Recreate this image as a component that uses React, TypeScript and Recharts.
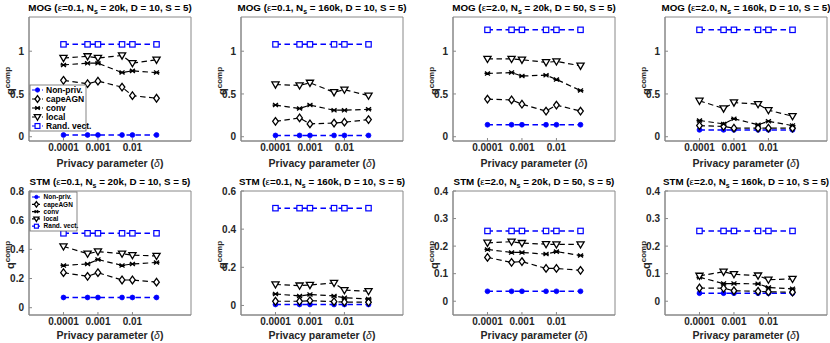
import React from 'react';
import { LineChart, Line, XAxis, YAxis, ReferenceArea } from 'recharts';

const FONT = '"Liberation Sans", Arial, Helvetica, sans-serif';
const BLUE = '#0000ff';
const INK = '#262626';

const deltas = [0.0001, 0.0005, 0.001, 0.005, 0.01, 0.05];
const deltaTicks = [0.0001, 0.001, 0.01];
const seriesNames = ['Non-priv.', 'capeAGN', 'conv', 'local', 'Rand. vect.'];

// MOG, eps=0.1, Ns=20k, D=10
const mogA_nonPriv = [0.02, 0.02, 0.02, 0.02, 0.02, 0.02];
const mogA_cape = [0.66, 0.62, 0.65, 0.58, 0.48, 0.45];
const mogA_conv = [0.84, 0.86, 0.86, 0.75, 0.77, 0.75];
const mogA_local = [0.92, 0.94, 0.92, 0.95, 0.86, 0.9];
const mogA_rand = [1.08, 1.08, 1.08, 1.08, 1.08, 1.08];

// MOG, eps=0.1, Ns=160k, D=10
const mogB_nonPriv = [0.015, 0.015, 0.015, 0.015, 0.015, 0.015];
const mogB_cape = [0.18, 0.22, 0.15, 0.16, 0.17, 0.2];
const mogB_conv = [0.37, 0.33, 0.37, 0.31, 0.31, 0.32];
const mogB_local = [0.61, 0.6, 0.63, 0.52, 0.55, 0.48];
const mogB_rand = [1.08, 1.08, 1.08, 1.08, 1.08, 1.08];

// MOG, eps=2.0, Ns=20k, D=50
const mogC_nonPriv = [0.14, 0.14, 0.14, 0.14, 0.14, 0.14];
const mogC_cape = [0.44, 0.43, 0.38, 0.3, 0.37, 0.3];
const mogC_conv = [0.74, 0.75, 0.71, 0.72, 0.67, 0.54];
const mogC_local = [0.91, 0.91, 0.9, 0.87, 0.88, 0.83];
const mogC_rand = [1.25, 1.25, 1.25, 1.25, 1.25, 1.25];

// MOG, eps=2.0, Ns=160k, D=10
const mogD_nonPriv = [0.08, 0.08, 0.08, 0.08, 0.08, 0.08];
const mogD_cape = [0.13, 0.12, 0.1, 0.1, 0.1, 0.1];
const mogD_conv = [0.19, 0.15, 0.21, 0.14, 0.18, 0.13];
const mogD_local = [0.42, 0.33, 0.4, 0.38, 0.31, 0.24];
const mogD_rand = [1.25, 1.25, 1.25, 1.25, 1.25, 1.25];

// STM, eps=0.1, Ns=20k, D=10
const stmA_nonPriv = [0.07, 0.07, 0.07, 0.07, 0.07, 0.07];
const stmA_cape = [0.24, 0.215, 0.24, 0.19, 0.19, 0.175];
const stmA_conv = [0.29, 0.3, 0.33, 0.29, 0.3, 0.31];
const stmA_local = [0.42, 0.37, 0.385, 0.37, 0.36, 0.355];
const stmA_rand = [0.51, 0.51, 0.51, 0.51, 0.51, 0.51];

// STM, eps=0.1, Ns=160k, D=10
const stmB_nonPriv = [0.005, 0.005, 0.005, 0.005, 0.005, 0.005];
const stmB_cape = [0.022, 0.022, 0.025, 0.02, 0.018, 0.017];
const stmB_conv = [0.06, 0.05, 0.057, 0.05, 0.04, 0.034];
const stmB_local = [0.11, 0.104, 0.107, 0.118, 0.08, 0.075];
const stmB_rand = [0.51, 0.51, 0.51, 0.51, 0.51, 0.51];

// STM, eps=2.0, Ns=20k, D=50
const stmC_nonPriv = [0.036, 0.036, 0.036, 0.036, 0.036, 0.036];
const stmC_cape = [0.159, 0.141, 0.144, 0.119, 0.119, 0.112];
const stmC_conv = [0.188, 0.177, 0.177, 0.171, 0.18, 0.166];
const stmC_local = [0.212, 0.216, 0.211, 0.207, 0.206, 0.206];
const stmC_rand = [0.255, 0.255, 0.255, 0.255, 0.255, 0.255];

// STM, eps=2.0, Ns=160k, D=10
const stmD_nonPriv = [0.029, 0.029, 0.029, 0.029, 0.029, 0.029];
const stmD_cape = [0.048, 0.047, 0.038, 0.036, 0.034, 0.033];
const stmD_conv = [0.087, 0.064, 0.064, 0.063, 0.05, 0.045];
const stmD_local = [0.092, 0.107, 0.098, 0.093, 0.078, 0.081];
const stmD_rand = [0.255, 0.255, 0.255, 0.255, 0.255, 0.255];

const panels = [
  { name: 'MOG', eps: '0.1', ns: '20k', d: '10', yMax: 1.4, yTicks: [0, 0.5, 1],
    series: [mogA_nonPriv, mogA_cape, mogA_conv, mogA_local, mogA_rand] },
  { name: 'MOG', eps: '0.1', ns: '160k', d: '10', yMax: 1.4, yTicks: [0, 0.5, 1],
    series: [mogB_nonPriv, mogB_cape, mogB_conv, mogB_local, mogB_rand] },
  { name: 'MOG', eps: '2.0', ns: '20k', d: '50', yMax: 1.4, yTicks: [0, 0.5, 1],
    series: [mogC_nonPriv, mogC_cape, mogC_conv, mogC_local, mogC_rand] },
  { name: 'MOG', eps: '2.0', ns: '160k', d: '10', yMax: 1.4, yTicks: [0, 0.5, 1],
    series: [mogD_nonPriv, mogD_cape, mogD_conv, mogD_local, mogD_rand] },
  { name: 'STM', eps: '0.1', ns: '20k', d: '10', yMax: 0.8, yTicks: [0, 0.2, 0.4, 0.6, 0.8],
    series: [stmA_nonPriv, stmA_cape, stmA_conv, stmA_local, stmA_rand] },
  { name: 'STM', eps: '0.1', ns: '160k', d: '10', yMax: 0.6, yTicks: [0, 0.2, 0.4, 0.6],
    series: [stmB_nonPriv, stmB_cape, stmB_conv, stmB_local, stmB_rand] },
  { name: 'STM', eps: '2.0', ns: '20k', d: '50', yMax: 0.4, yTicks: [0, 0.1, 0.2, 0.3, 0.4],
    series: [stmC_nonPriv, stmC_cape, stmC_conv, stmC_local, stmC_rand] },
  { name: 'STM', eps: '2.0', ns: '160k', d: '10', yMax: 0.4, yTicks: [0, 0.1, 0.2, 0.3, 0.4],
    series: [stmD_nonPriv, stmD_cape, stmD_conv, stmD_local, stmD_rand] },
];

const keys = ['nonPriv', 'cape', 'conv', 'local', 'rand'];
const kinds = ['dot', 'diamond', 'cross', 'tri', 'square'];
const colors = [BLUE, '#000', '#000', '#000', BLUE];

const COL_W = 212;
const PLOT_L = 29;
const PLOT_W = 162;
const PLOT_H = 124;
const ROW_TOP = [0, 171];
const ROW_H = [171, 172];
const ROW_MT = [17, 20];
const XLABEL_OFF = [26, 24];
const Y_MIN = -0.05;

function Marker({ kind, cx, cy, s = 1 }: { kind: string; cx: number; cy: number; s?: number }) {
  if (cx == null || cy == null) return null;
  if (kind === 'dot') return <circle cx={cx} cy={cy} r={2.4 * s} fill={BLUE} stroke={BLUE} strokeWidth={0.8} />;
  if (kind === 'diamond')
    return (
      <path
        d={`M${cx},${cy - 3.8 * s}L${cx + 2.8 * s},${cy}L${cx},${cy + 3.8 * s}L${cx - 2.8 * s},${cy}Z`}
        fill="#fff" stroke="#000" strokeWidth={1.3}
      />
    );
  if (kind === 'cross')
    return (
      <path
        d={`M${cx - 2.5 * s},${cy - 2 * s}L${cx + 2.5 * s},${cy + 2 * s}M${cx - 2.5 * s},${cy + 2 * s}L${cx + 2.5 * s},${cy - 2 * s}M${cx - 3 * s},${cy}L${cx + 3 * s},${cy}`}
        fill="none" stroke="#000" strokeWidth={1.3}
      />
    );
  if (kind === 'tri')
    return (
      <path
        d={`M${cx - 3.6 * s},${cy - 2.6 * s}L${cx + 3.6 * s},${cy - 2.6 * s}L${cx},${cy + 3.6 * s}Z`}
        fill="#fff" stroke="#000" strokeWidth={1.3}
      />
    );
  return <rect x={cx - 2.7 * s} y={cy - 2.7 * s} width={5.4 * s} height={5.4 * s} fill="#fff" stroke={BLUE} strokeWidth={1.2} />;
}

const dotFor = (kind: string) => (props: any) =>
  <Marker key={`${kind}-${props.index}`} kind={kind} cx={props.cx} cy={props.cy} />;

function Panel({ p, idx }: { p: any; idx: number }) {
  const col = idx % 4;
  const row = Math.floor(idx / 4);
  const data = deltas.map((d, i) => {
    const o: any = { delta: d };
    keys.forEach((k, j) => (o[k] = p.series[j][i]));
    return o;
  });
  const tickStyle = { fontSize: 10, fontWeight: 'bold', fill: INK, fontFamily: FONT };
  return (
    <div style={{ position: 'absolute', left: col * COL_W, top: ROW_TOP[row] }}>
      <LineChart
        width={COL_W}
        height={ROW_H[row]}
        data={data}
        margin={{ top: ROW_MT[row], right: COL_W - PLOT_L - PLOT_W, left: 0, bottom: 0 }}
      >
        <XAxis
          dataKey="delta" type="number" scale="log" domain={[0.00001, 0.5]} ticks={deltaTicks}
          allowDataOverflow interval={0} tickFormatter={(v: number) => String(v)}
          height={ROW_H[row] - ROW_MT[row] - PLOT_H} tick={tickStyle}
          tickSize={-3} tickMargin={6} stroke="#888"
        />
        <YAxis
          type="number" domain={[Y_MIN, p.yMax]} ticks={p.yTicks} allowDataOverflow interval={0}
          tickFormatter={(v: number) => String(v)} width={PLOT_L} tick={tickStyle}
          tickSize={-3} tickMargin={8} stroke="#888"
        />
        <ReferenceArea x1={0.00001} x2={0.5} y1={Y_MIN} y2={p.yMax} fill="none" stroke="#888" strokeWidth={1} ifOverflow="visible" />
        {keys.map((k, j) => (
          <Line
            key={k} dataKey={k} type="linear" stroke={colors[j]} strokeWidth={colors[j] === BLUE ? 1.5 : 1.2}
            strokeDasharray="5.5 3.5" dot={dotFor(kinds[j])} activeDot={false} isAnimationActive={false}
          />
        ))}
      </LineChart>
    </div>
  );
}

function Legend({ x, y, w, h, rowGap, fs, s }: any) {
  return (
    <g>
      <rect x={x} y={y} width={w} height={h} fill="#fff" stroke="#666" strokeWidth={0.8} />
      {seriesNames.map((n, i) => {
        const cy = y + 5 + i * rowGap;
        return (
          <g key={n}>
            <line x1={x + 2} x2={x + 2 + 11 * s} y1={cy} y2={cy} stroke={colors[i]} strokeWidth={1.2} strokeDasharray="3 2" />
            <Marker kind={kinds[i]} cx={x + 2 + 5.5 * s} cy={cy} s={s * 0.9} />
            <text x={x + 4 + 12 * s} y={cy} dy="0.35em" fontSize={fs} fontWeight="bold" fill="#000" fontFamily={FONT}>{n}</text>
          </g>
        );
      })}
    </g>
  );
}

export default function App() {
  return (
    <div style={{ position: 'absolute', left: 0, top: 0, width: 830, height: 343, overflow: 'hidden', background: '#fff' }}>
      {panels.map((p, i) => <Panel key={i} p={p} idx={i} />)}
      <svg width={830} height={343} style={{ position: 'absolute', left: 0, top: 0, pointerEvents: 'none' }} fontFamily={FONT}>
        {panels.map((p, i) => {
          const col = i % 4;
          const row = Math.floor(i / 4);
          const plotTop = ROW_TOP[row] + ROW_MT[row];
          const cx = col * COL_W + PLOT_L + PLOT_W / 2;
          return (
            <g key={i} fill="#000" fontWeight="bold">
              <text x={cx} y={plotTop - 6} textAnchor="middle" fontSize={9.8}>
                {p.name} (<tspan fontWeight="normal">ε</tspan>={p.eps}, N
                <tspan dy={2.5} fontSize={7}>s</tspan>
                <tspan dy={-2.5}>{` = ${p.ns}, D = ${p.d}, S = 5)`}</tspan>
              </text>
              <text x={cx} y={plotTop + PLOT_H + XLABEL_OFF[row]} textAnchor="middle" fontSize={10.5} fill={INK}>
                Privacy parameter (<tspan fontStyle="italic" fontWeight="normal">δ</tspan>)
              </text>
              <text transform={`translate(${col * COL_W + 14},${plotTop + PLOT_H / 2 + 2}) rotate(-90)`} textAnchor="middle" fontSize={11} fill={INK}>
                q<tspan dy={-4} fontSize={8}>comp</tspan>
              </text>
            </g>
          );
        })}
        <Legend x={30} y={85} w={56} h={46} rowGap={9} fs={8.5} s={1} />
        <Legend x={30} y={192} w={47} h={39} rowGap={7.3} fs={6.5} s={0.8} />
      </svg>
    </div>
  );
}
